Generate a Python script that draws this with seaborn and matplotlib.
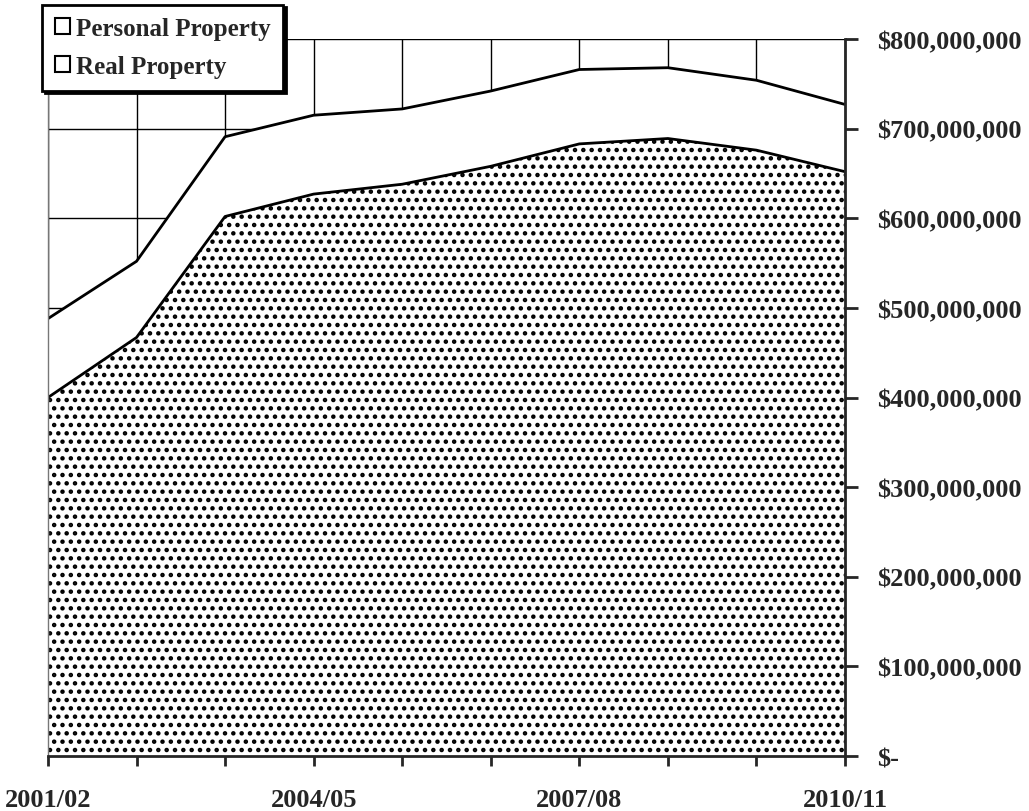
import numpy as np
import pandas as pd
import seaborn as sns
import matplotlib.pyplot as plt
from matplotlib.patches import Patch

# Data
years = ["2001/02", "2002/03", "2003/04", "2004/05", "2005/06",
         "2006/07", "2007/08", "2008/09", "2009/10", "2010/11"]
real_property = [400e6, 467e6, 602e6, 627e6, 638e6, 658e6, 683e6, 689e6, 676e6, 652e6]
personal_property = [88e6, 85e6, 89e6, 88e6, 84e6, 84e6, 83e6, 79e6, 78e6, 75e6]
y_ticks = [0, 100e6, 200e6, 300e6, 400e6, 500e6, 600e6, 700e6, 800e6]
y_labels = ["$-", "$100,000,000", "$200,000,000", "$300,000,000", "$400,000,000",
            "$500,000,000", "$600,000,000", "$700,000,000", "$800,000,000"]

sns.set_style("white")
plt.rcParams["font.family"] = ["Liberation Serif", "DejaVu Serif"]
plt.rcParams["font.weight"] = "bold"
plt.rcParams["hatch.linewidth"] = 2.0
plt.rcParams["hatch.color"] = "black"

df = pd.DataFrame({"x": np.arange(len(years)),
                   "real": real_property,
                   "personal": personal_property})
df["total"] = df["real"] + df["personal"]

fig = plt.figure(figsize=(10.29, 8.12), dpi=100)
ax = fig.add_axes([0.0466, 0.0677, 0.8212 - 0.0466, 0.9507 - 0.0677])

# grid behind the areas
for xv in df["x"]:
    ax.axvline(xv, color="black", lw=1.0, zorder=0)
for yv in y_ticks:
    ax.axhline(yv, color="black", lw=1.0, zorder=0)

ax.fill_between(df["x"], df["real"], df["total"], facecolor="white",
                edgecolor="none", zorder=1)
ax.fill_between(df["x"], 0, df["real"], facecolor="white", hatch="..",
                edgecolor="black", lw=0, zorder=1)

sns.lineplot(data=df, x="x", y="total", color="black", lw=2, ax=ax, zorder=3)
sns.lineplot(data=df, x="x", y="real", color="black", lw=2, ax=ax, zorder=3)

ax.set_xlim(0, len(years) - 1)
ax.set_ylim(0, 800e6)

ax.yaxis.tick_right()
ax.set_yticks(y_ticks)
ax.set_yticklabels(y_labels, fontsize=19, fontweight="bold")
ax.set_xticks(df["x"])
ax.set_xticklabels([y if i % 3 == 0 else "" for i, y in enumerate(years)],
                   fontsize=19, fontweight="bold")
ax.tick_params(axis="y", direction="out", length=9, width=2, pad=14, right=True, left=False)
ax.tick_params(axis="x", direction="out", length=7, width=2, pad=16, bottom=True)
ax.set_xlabel("")
ax.set_ylabel("")

ax.spines["top"].set_visible(False)
ax.spines["right"].set_linewidth(2)
ax.spines["bottom"].set_linewidth(2)
ax.spines["left"].set_linewidth(1)
ax.spines["left"].set_color("#777777")
for s in ax.spines.values():
    s.set_zorder(4)

handles = [Patch(facecolor="white", edgecolor="black", lw=1.5, label="Personal Property"),
           Patch(facecolor="white", edgecolor="black", lw=1.5, label="Real Property")]
leg = fig.legend(handles=handles, loc="upper left", bbox_to_anchor=(0.041, 0.993),
                 frameon=True, fancybox=False, shadow={"color": "black", "alpha": 1},
                 prop={"size": 18, "weight": "bold"}, handlelength=0.6,
                 handleheight=0.6, handletextpad=0.25, labelspacing=0.6,
                 borderpad=0.5, borderaxespad=0)
leg.get_frame().set_edgecolor("black")
leg.get_frame().set_linewidth(2)

fig.savefig("out.png", dpi=100)
